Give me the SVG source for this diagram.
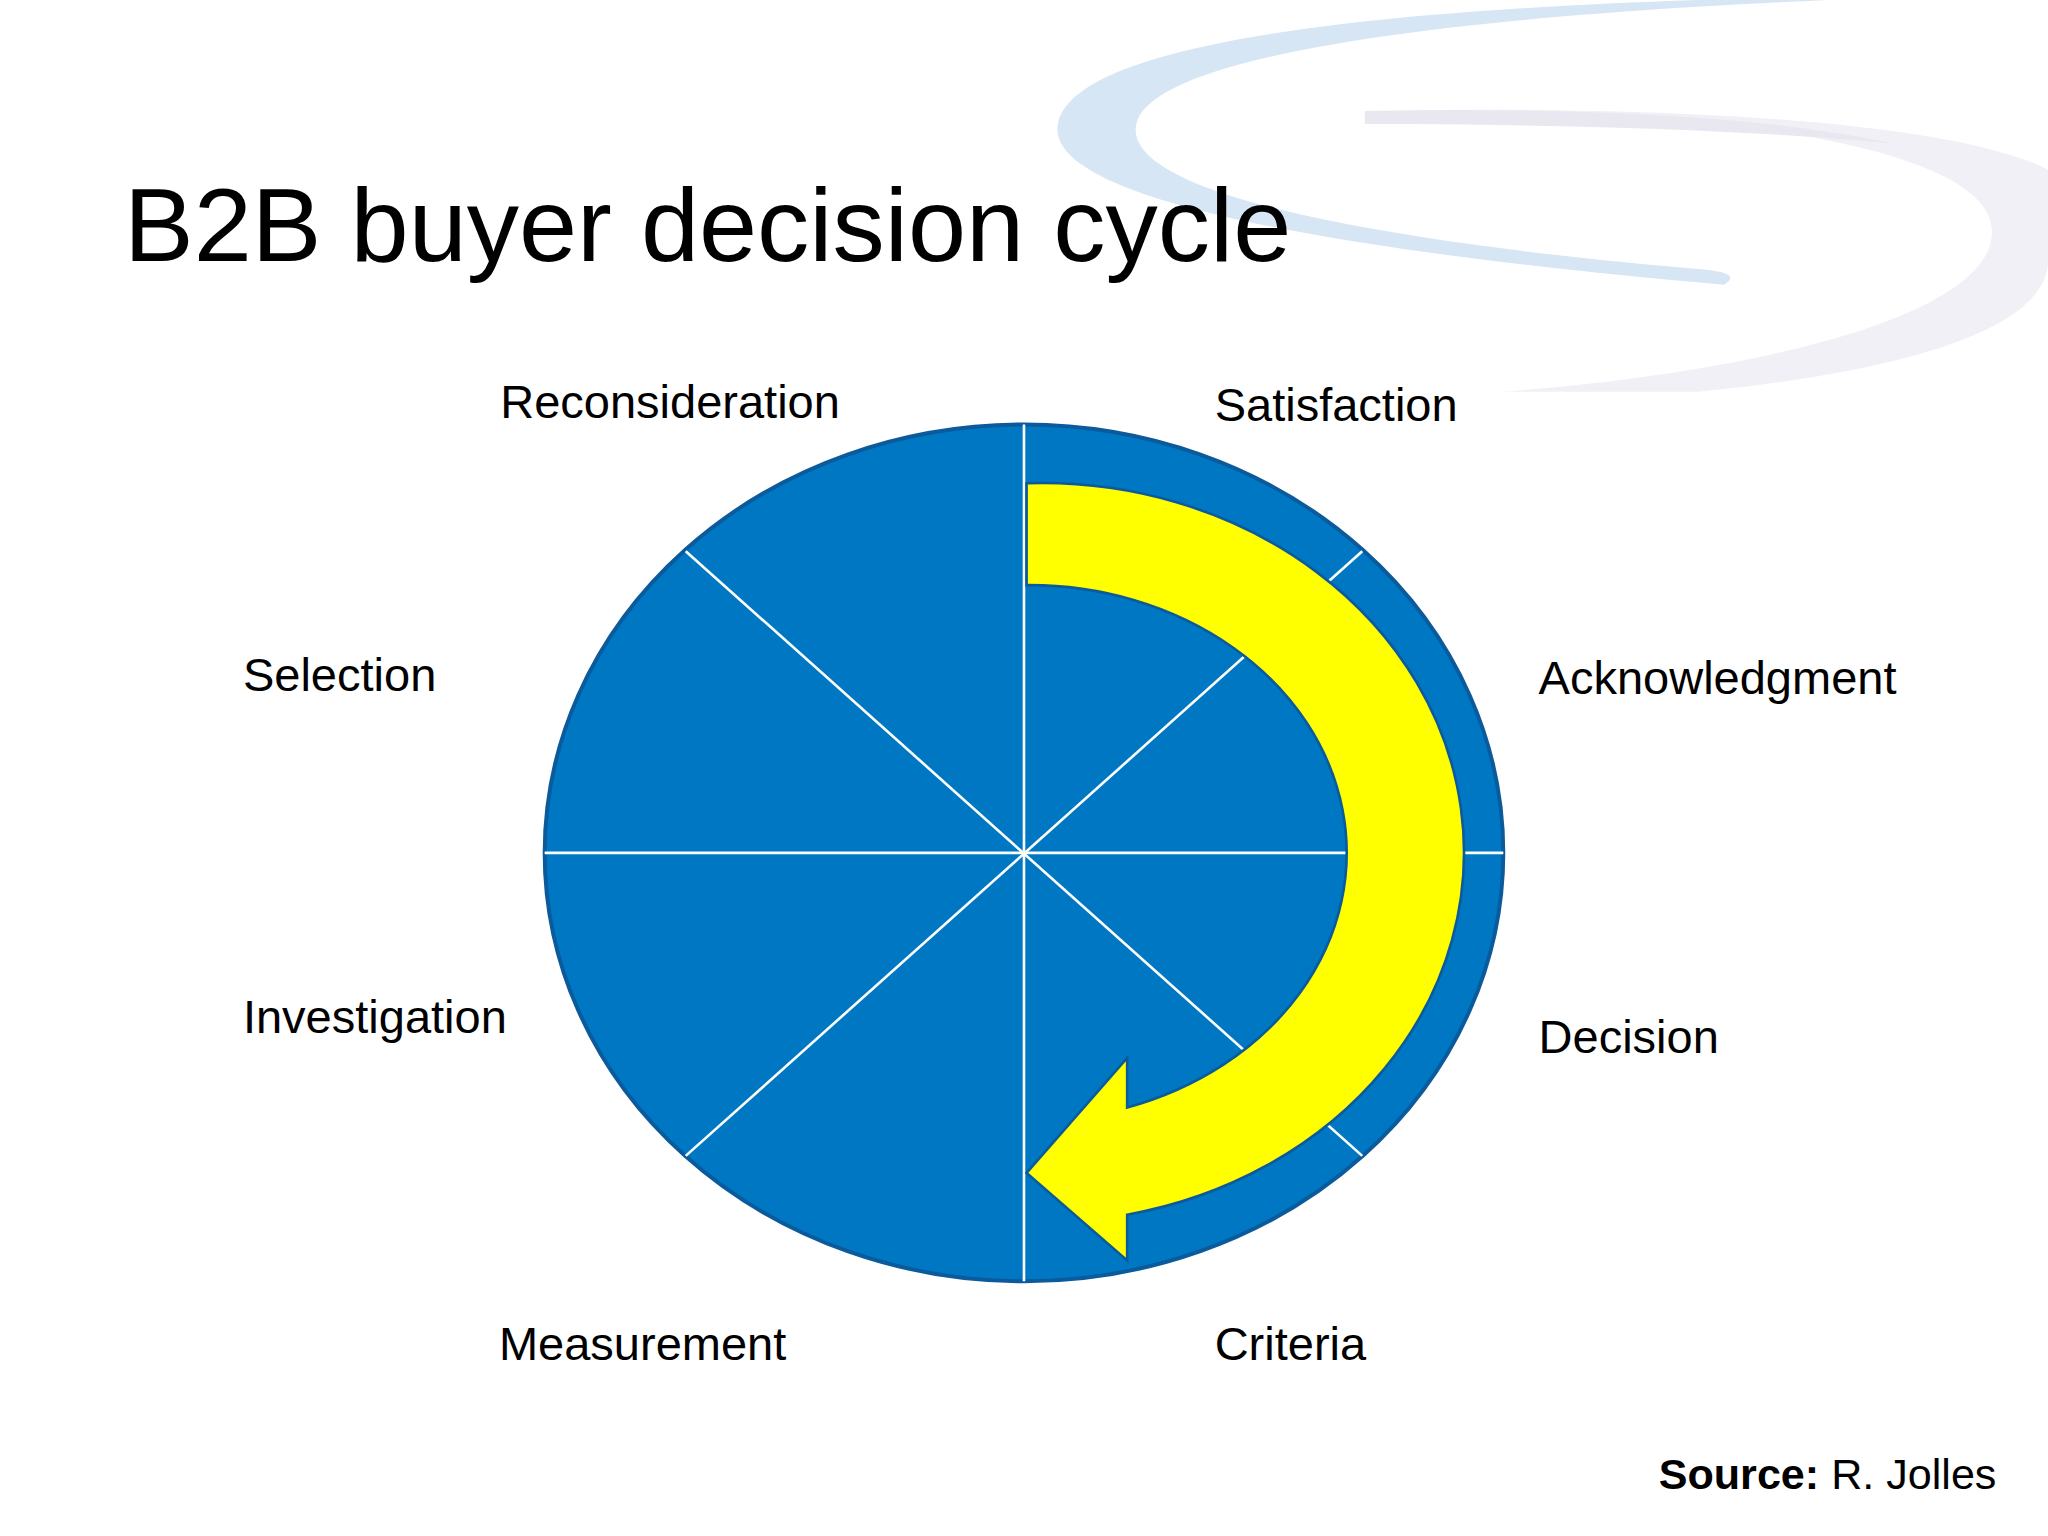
<svg xmlns="http://www.w3.org/2000/svg" width="2048" height="1536" viewBox="0 0 2048 1536">
<style>
text{font-family:"Liberation Sans",Arial,sans-serif;fill:#000}
.lbl{font-size:36px}
.div{stroke:#fff;stroke-width:2}
</style>
<rect width="2048" height="1536" fill="#fff"/>
<g transform="scale(1.3061)">
<g id="swoosh">
<path d="M1300,0 C1000,10 820,40 810,95 C800,150 1000,190 1320,218 C1330,212 1325,208 1300,206 C1000,180 860,140 870,95 C880,50 1050,15 1400,0 Z" fill="#d6e6f4"/>
<path d="M1045,85 C1300,80 1520,110 1525,175 C1530,240 1350,285 1150,300 L1300,300 C1500,280 1568,240 1568,200 L1568,130 C1500,95 1300,80 1045,85 Z" fill="#f1f0f6"/>
<path d="M1045,85 C1200,82 1350,88 1450,110 C1350,100 1200,95 1045,95 Z" fill="#e9e8f0"/>
</g>
<text x="95" y="200" font-size="80">B2B buyer decision cycle</text>
<g id="wheel">
<ellipse cx="784" cy="653" rx="367" ry="328" fill="#0077c2" stroke="#0a5a9c" stroke-width="3"/>
<line class="div" x1="784" y1="325" x2="784" y2="981"/>
<line class="div" x1="417" y1="653" x2="1151" y2="653"/>
<line class="div" x1="525" y1="422" x2="1043" y2="885"/>
<line class="div" x1="525" y1="885" x2="1043" y2="422"/>
</g>
<g id="arrow">
<path d="M786,370 A323,283 0 0 1 863,930 L863,965 L786,898 L863,810 L863,848 A243,205 0 0 0 786,448 Z" fill="#ffff00" stroke="#0a5a9c" stroke-width="2"/>
</g>
<g id="labels" class="lbl">
<text class="lbl" x="383" y="320">Reconsideration</text>
<text class="lbl" x="930" y="322">Satisfaction</text>
<text class="lbl" x="186" y="529">Selection</text>
<text class="lbl" x="1178" y="531">Acknowledgment</text>
<text class="lbl" x="186" y="791">Investigation</text>
<text class="lbl" x="1178" y="806">Decision</text>
<text class="lbl" x="382" y="1041">Measurement</text>
<text class="lbl" x="930" y="1041">Criteria</text>
<text x="1270" y="1140" font-size="33"><tspan font-weight="bold">Source:</tspan>  R. Jolles</text>
</g>
</g>
</svg>
